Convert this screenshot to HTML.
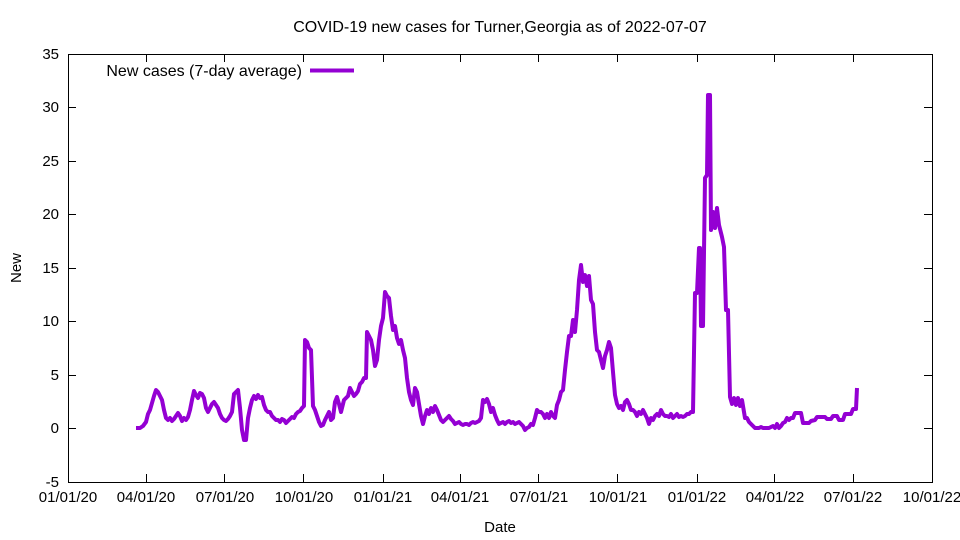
<!DOCTYPE html>
<html><head><meta charset="utf-8"><style>body{margin:0;background:#fff}svg{display:block}text{font-family:"Liberation Sans",sans-serif;font-size:15px;fill:#000}</style></head><body>
<svg width="960" height="540" viewBox="0 0 960 540" xmlns="http://www.w3.org/2000/svg">
<rect width="960" height="540" fill="#fff"/>
<text x="500" y="32" text-anchor="middle" style="font-size:16px">COVID-19 new cases for Turner,Georgia as of 2022-07-07</text>
<g stroke="#000" stroke-width="1" fill="none">
<rect x="68.5" y="54.5" width="864" height="428"/>
<path d="M68 54.5h8M932 54.5h-8M68 107.5h8M932 107.5h-8M68 161.5h8M932 161.5h-8M68 214.5h8M932 214.5h-8M68 268.5h8M932 268.5h-8M68 321.5h8M932 321.5h-8M68 375.5h8M932 375.5h-8M68 428.5h8M932 428.5h-8M68 482.5h8M932 482.5h-8"/>
<path d="M68.5 482v-8M68.5 54v8M146.5 482v-8M146.5 54v8M224.5 482v-8M224.5 54v8M303.5 482v-8M303.5 54v8M383.5 482v-8M383.5 54v8M460.5 482v-8M460.5 54v8M538.5 482v-8M538.5 54v8M617.5 482v-8M617.5 54v8M697.5 482v-8M697.5 54v8M774.5 482v-8M774.5 54v8M853.5 482v-8M853.5 54v8M932.5 482v-8M932.5 54v8"/>
</g>
<g text-anchor="end">
<text x="59" y="59">35</text><text x="59" y="112">30</text><text x="59" y="166">25</text><text x="59" y="219">20</text><text x="59" y="273">15</text><text x="59" y="326">10</text><text x="59" y="380">5</text><text x="59" y="433">0</text><text x="59" y="487">-5</text>
</g>
<g text-anchor="middle">
<text x="68" y="502">01/01/20</text><text x="146" y="502">04/01/20</text><text x="225" y="502">07/01/20</text><text x="304" y="502">10/01/20</text><text x="383" y="502">01/01/21</text><text x="460" y="502">04/01/21</text><text x="539" y="502">07/01/21</text><text x="618" y="502">10/01/21</text><text x="697" y="502">01/01/22</text><text x="775" y="502">04/01/22</text><text x="853" y="502">07/01/22</text><text x="932" y="502">10/01/22</text>
<text x="500" y="532">Date</text>
<text transform="translate(21,268) rotate(-90)">New</text>
</g>
<text x="302" y="76" text-anchor="end" style="font-size:16px">New cases (7-day average)</text>
<path d="M310 70.5h44" stroke="#9400d3" stroke-width="4"/>
<polyline fill="none" stroke="#9400d3" stroke-width="4" stroke-linejoin="round" points="136,428 140,428 143,426 146,422 148,414 150,410 152,403 154,396 156,390 158,392 160,396 162,400 164,410 166,418 168,420 170,418 172,421 174,419 176,416 178,413 180,416 182,421 184,418 186,420 188,417 190,410 192,400 194,391 196,395 198,398 200,393 202,394 204,398 206,408 208,412 210,408 212,404 214,402 216,405 218,408 220,414 222,418 224,420 226,421 228,419 230,416 232,412 234,394 236,392 238,390 240,408 242,430 244,440 246,440 248,418 250,408 252,400 254,396 256,399 258,395 260,398 262,397 264,405 266,410 268,412 270,412 272,416 274,418 276,420 278,420 280,422 282,419 284,420 286,423 288,421 290,419 292,417 294,418 296,414 298,412 300,411 302,408 304,406 305,340 307,342 309,348 311,350 313,406 315,410 317,416 319,422 321,426 323,425 325,420 327,416 329,412 331,420 333,418 335,402 337,397 339,404 341,412 342,408 344,400 346,398 348,396 350,388 352,392 354,396 356,394 358,391 360,384 362,382 364,378 366,378 367,332 369,336 371,340 373,350 375,366 377,360 379,340 381,326 383,318 385,292 387,296 389,298 391,316 393,330 395,326 397,338 399,344 401,340 403,350 405,358 407,378 409,392 411,400 413,405 415,388 417,392 419,404 421,416 423,424 425,416 427,410 429,414 431,408 433,412 435,406 437,410 439,415 441,420 443,422 445,420 447,418 449,416 451,419 453,421 455,424 457,423 459,422 461,424 463,425 465,424 467,424 469,425 471,423 473,422 475,423 477,422 479,421 481,418 483,400 485,402 487,399 489,404 491,412 493,408 495,415 497,420 499,424 501,423 503,422 505,424 507,422 509,421 511,423 513,422 515,424 517,423 519,422 521,424 523,426 525,430 527,428 529,427 531,424 533,425 535,418 537,410 539,412 541,412 543,414 545,418 547,414 549,418 551,412 553,416 555,418 557,405 559,400 561,392 563,390 565,370 567,352 569,336 571,336 573,320 575,332 577,310 579,280 581,265 583,282 585,275 587,286 589,276 591,300 593,304 595,332 597,350 599,352 601,360 603,368 605,356 607,350 609,342 611,348 613,372 615,395 617,404 619,408 621,406 623,410 625,402 627,400 629,404 631,410 633,410 635,412 637,416 639,412 641,414 643,410 645,414 647,418 649,424 651,418 653,420 655,416 657,414 659,416 661,410 663,414 665,416 667,416 669,417 671,414 673,418 675,416 677,414 679,417 681,416 683,417 685,416 687,414 689,414 691,412 693,412 695,293 697,293 699,248 700,248 701,326 703,326 705,178 707,175 708,95 710,95 711,230 713,212 715,228 717,208 719,225 722,237 724,247 726,310 728,310 730,397 732,404 734,398 736,405 738,398 740,406 742,400 745,418 747,418 749,422 751,424 753,426 755,428 757,428 759,428 761,427 763,428 765,428 767,428 769,428 771,427 773,426 775,428 777,424 779,428 781,426 783,423 785,422 787,418 789,420 791,418 793,418 795,413 801,413 803,423 809,423 811,421 815,420 817,417 825,417 827,419 831,419 833,416 837,416 839,420 843,420 845,414 851,414 853,409 856,409 857,388"/>
</svg>
</body></html>
